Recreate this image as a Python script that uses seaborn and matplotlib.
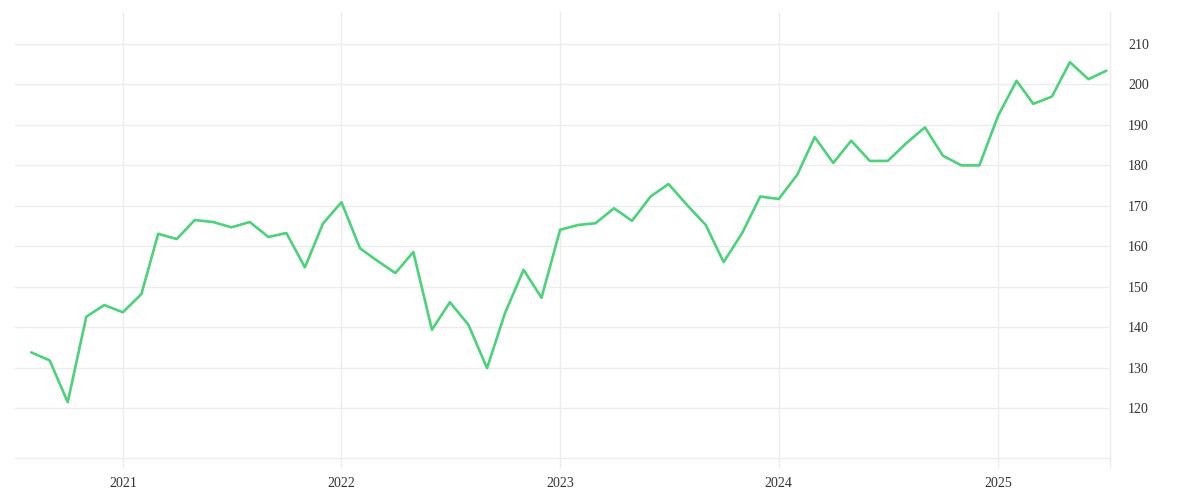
import pandas as pd
import matplotlib.pyplot as plt
import matplotlib.dates as mdates
import seaborn as sns

# monthly values, Aug 2020 .. Jul 2025
months = pd.date_range("2020-08-01", "2025-07-01", freq="MS")
values = [
    133.8, 131.8, 121.5, 142.6, 145.5,
    143.7, 148.2, 163.1, 161.8, 166.5, 166.0, 164.7, 166.0, 162.3, 163.3, 154.8, 165.6,
    170.9, 159.5, 156.5, 153.4, 158.6, 139.4, 146.2, 140.6, 129.9, 143.5, 154.2, 147.3,
    164.1, 165.3, 165.7, 169.4, 166.3, 172.3, 175.4, 170.2, 165.3, 156.1, 163.3, 172.3,
    171.7, 177.7, 187.0, 180.6, 186.1, 181.1, 181.1, 185.5, 189.4, 182.4, 180.0, 180.0,
    192.2, 200.9, 195.2, 197.0, 205.5, 201.3, 203.4,
]
year_ticks = pd.to_datetime(["2021-01-01", "2022-01-01", "2023-01-01", "2024-01-01", "2025-01-01"])
year_labels = ["2021", "2022", "2023", "2024", "2025"]
y_ticks = [120, 130, 140, 150, 160, 170, 180, 190, 200, 210]

df = pd.DataFrame({"date": months, "value": values})

sns.set_theme(style="whitegrid")
plt.rcParams["font.family"] = ["Liberation Serif", "DejaVu Serif"]

grid_col = "#ececec"
fig = plt.figure(figsize=(12, 5), dpi=100)
ax = fig.add_axes([0.0125, 0.084, 0.9125, 0.892])

sns.lineplot(data=df, x="date", y="value", ax=ax, color="#4cd27a", linewidth=1.9)

ax.set_xlim(pd.Timestamp("2020-07-05"), pd.Timestamp("2025-07-07"))
ax.set_ylim(107.7, 217.9)
ax.set_xticks(year_ticks)
ax.set_xticklabels(year_labels)
ax.set_yticks(y_ticks)
ax.yaxis.tick_right()
ax.set_xlabel("")
ax.set_ylabel("")

# extra tick at the right edge so the right border runs down like the grid
ax.xaxis.set_minor_locator(plt.FixedLocator([mdates.date2num(pd.Timestamp("2025-07-07"))]))

ax.grid(True, color=grid_col, linewidth=1)
ax.tick_params(axis="x", which="both", length=7.5, width=1, color=grid_col,
               pad=6, labelsize=10, labelcolor="#333333", bottom=True)
ax.tick_params(axis="y", length=0, pad=13, labelsize=10, labelcolor="#333333")
for lab in ax.get_yticklabels():
    lab.set_horizontalalignment("left")
    lab.set_verticalalignment("center_baseline")

for side in ["top", "left"]:
    ax.spines[side].set_visible(False)
for side in ["bottom", "right"]:
    ax.spines[side].set_visible(True)
    ax.spines[side].set_color(grid_col)
    ax.spines[side].set_linewidth(1)

fig.savefig("out.png", dpi=100, facecolor="white")
